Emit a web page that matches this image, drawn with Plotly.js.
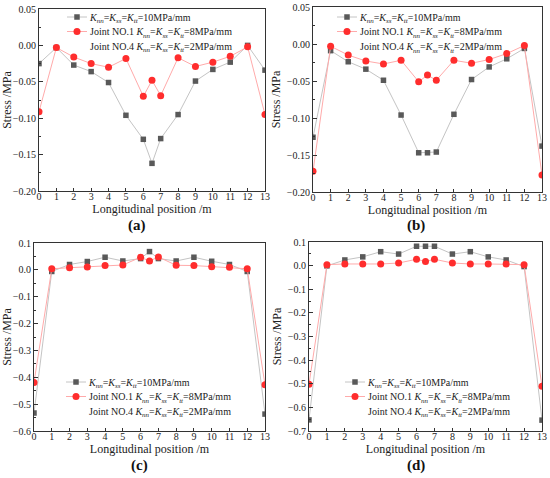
<!DOCTYPE html>
<html>
<head>
<meta charset="utf-8">
<script src="https://cdn.plot.ly/plotly-3.0.1.min.js"></script>
<style>html,body{margin:0;padding:0;background:#fff;}#chart{width:550px;height:478px;}</style>
</head>
<body>
<div id="chart"></div>
<script>
// Longitudinal positions (m)
const positions = [0, 1, 2, 3, 4, 5, 6, 6.5, 7, 8, 9, 10, 11, 12, 13];

// Panel (a)
const aK10 = [-0.025, -0.003, -0.027, -0.036, -0.051, -0.096, -0.129, -0.162, -0.128, -0.095, -0.049, -0.033, -0.023, 0.000, -0.034];
const aJ1  = [-0.091, -0.003, -0.016, -0.025, -0.030, -0.018, -0.070, -0.048, -0.069, -0.017, -0.029, -0.023, -0.015, -0.002, -0.095];
// Panel (b)
const bK10 = [-0.126, -0.009, -0.024, -0.034, -0.049, -0.096, -0.147, -0.147, -0.146, -0.095, -0.048, -0.031, -0.020, -0.006, -0.138];
const bJ1  = [-0.172, -0.003, -0.015, -0.023, -0.027, -0.022, -0.051, -0.042, -0.049, -0.022, -0.026, -0.021, -0.013, -0.002, -0.177];
// Panel (c)
const cK10 = [-0.533, -0.006, 0.020, 0.031, 0.047, 0.033, 0.042, 0.068, 0.042, 0.033, 0.047, 0.032, 0.020, -0.006, -0.537];
const cJ1  = [-0.419, 0.004, 0.008, 0.011, 0.016, 0.018, 0.047, 0.033, 0.048, 0.017, 0.016, 0.012, 0.010, 0.004, -0.428];
// Panel (d)
const dK10 = [-0.653, -0.001, 0.024, 0.037, 0.059, 0.049, 0.082, 0.082, 0.082, 0.049, 0.059, 0.037, 0.024, -0.004, -0.654];
const dJ1  = [-0.502, 0.004, 0.007, 0.007, 0.007, 0.011, 0.027, 0.017, 0.027, 0.011, 0.007, 0.007, 0.007, 0.004, -0.511];
// Joint NO.4 series: listed in the legend, no visible marks in the figure
const j4 = [null, null, null, null, null, null, null, null, null, null, null, null, null, null, null];

const seriesNames = [
  '<i>K</i><sub><i>nn</i></sub>=<i>K</i><sub><i>ss</i></sub>=<i>K</i><sub><i>tt</i></sub>=10MPa/mm',
  'Joint NO.1 <i>K</i><sub><i>nn</i></sub>=<i>K</i><sub><i>ss</i></sub>=<i>K</i><sub><i>tt</i></sub>=8MPa/mm',
  'Joint NO.4 <i>K</i><sub><i>nn</i></sub>=<i>K</i><sub><i>ss</i></sub>=<i>K</i><sub><i>tt</i></sub>=2MPa/mm'
];
const panelLabels = ['(a)', '(b)', '(c)', '(d)'];
const xTitle = 'Longitudinal position /m';
const yTitle = 'Stress /MPa';

const panels = [
  {k10: aK10, j1: aJ1, ax: '', range: [-0.2, 0.05], dtick: 0.05, fmt: '.2f'},
  {k10: bK10, j1: bJ1, ax: '2', range: [-0.2, 0.05], dtick: 0.05, fmt: '.2f'},
  {k10: cK10, j1: cJ1, ax: '3', range: [-0.6, 0.1], dtick: 0.1, fmt: '.1f'},
  {k10: dK10, j1: dJ1, ax: '4', range: [-0.7, 0.1], dtick: 0.1, fmt: '.1f'}
];

const W = 550, H = 478;
// pixel boxes [left, right, top, bottom]
const boxes = [[39, 265, 9, 191], [313, 542, 7, 192], [34, 265, 243, 431], [309, 542, 242, 431]];
// legend: text start x, row centre y values
const legendText = [90, 365, 94, 373];
const legendRows = [[17, 31.5, 46], [17, 31.5, 46.5], [382, 396.5, 411], [382, 396.5, 411]];
const labelPos = [[137, 225], [416, 225], [140, 465], [416, 465]];

const FONT = 'Liberation Serif, Times New Roman, serif';
const traces = [];
const layout = {
  width: W, height: H,
  margin: {l: 0, r: 0, t: 0, b: 0},
  paper_bgcolor: '#fff', plot_bgcolor: '#fff',
  font: {family: FONT, size: 11, color: '#222'},
  annotations: []
};

panels.forEach((p, i) => {
  const xa = 'x' + p.ax, ya = 'y' + p.ax;
  const lg = i === 0 ? 'legend' : 'legend' + (i + 1);
  traces.push({
    x: positions, y: p.k10, xaxis: xa, yaxis: ya, legend: lg,
    name: seriesNames[0], mode: 'lines+markers', type: 'scatter',
    line: {color: '#c4c4c4', width: 1},
    marker: {symbol: 'square', size: 5.5, color: '#595959'}
  });
  traces.push({
    x: positions, y: p.j1, xaxis: xa, yaxis: ya, legend: lg,
    name: seriesNames[1], mode: 'lines+markers', type: 'scatter',
    line: {color: '#ffaaaa', width: 1},
    marker: {symbol: 'circle', size: 7, color: '#ff2d2d'}
  });
  traces.push({
    x: positions, y: j4, xaxis: xa, yaxis: ya, legend: lg,
    name: seriesNames[2], mode: 'lines', type: 'scatter',
    line: {color: 'rgba(0,0,0,0)', width: 1}, showlegend: true
  });

  const b = boxes[i];
  const axisCommon = {
    showline: true, mirror: true, linecolor: '#333', linewidth: 1,
    ticks: 'inside', tickcolor: '#333', showgrid: false, zeroline: false,
    tickfont: {family: FONT, size: 10, color: '#222'}
  };
  layout['xaxis' + p.ax] = Object.assign({}, axisCommon, {
    domain: [b[0] / W, b[1] / W], anchor: ya,
    range: [0, 13], dtick: 1, tick0: 0, ticklen: 3, ticklabelstandoff: -4,
    title: {text: xTitle, font: {family: FONT, size: 12, color: '#222'}, standoff: 0}
  });
  layout['yaxis' + p.ax] = Object.assign({}, axisCommon, {
    domain: [1 - b[3] / H, 1 - b[2] / H], anchor: xa,
    range: p.range, dtick: p.dtick, tick0: 0, tickformat: p.fmt, ticklen: 4,
    minor: {dtick: p.dtick / 2, ticks: 'inside', ticklen: 2, tickcolor: '#333'},
    title: {text: yTitle, font: {family: FONT, size: 12, color: '#222'}, standoff: 3}
  });

  layout[lg] = {
    x: (legendText[i] - 45) / W, y: 1 - (legendRows[i][0] - 8) / H, xanchor: 'left', yanchor: 'top',
    bgcolor: 'rgba(0,0,0,0)', borderwidth: 0, itemwidth: 30, tracegroupgap: 0,
    font: {family: FONT, size: 10, color: '#222'}
  };

  layout.annotations.push({
    text: '<b>' + panelLabels[i] + '</b>', xref: 'paper', yref: 'paper',
    x: labelPos[i][0] / W, y: 1 - labelPos[i][1] / H, xanchor: 'center', yanchor: 'middle',
    showarrow: false, font: {family: FONT, size: 15, color: '#111'}
  });
});

function parseT(t) {
  const m = /translate\(\s*([-\d.e]+)[ ,]+([-\d.e]+)\s*\)/.exec(t || '');
  return m ? [parseFloat(m[1]), parseFloat(m[2])] : [0, 0];
}

// Compact the legends: tighter row spacing and shorter symbols, as in the reference
function tidyLegends(gd) {
  const ids = ['legend', 'legend2', 'legend3', 'legend4'];
  const root = gd.getBoundingClientRect();
  ids.forEach((id, i) => {
    const lg = gd.querySelector('.infolayer g.' + id);
    if (!lg) return;
    const items = lg.querySelectorAll('g.traces');
    items.forEach(tr => {
      tr.querySelectorAll('.legendlines path').forEach(p => p.setAttribute('d', 'M17,0h20'));
      tr.querySelectorAll('.legendpoints path').forEach(p => p.setAttribute('transform', 'translate(27,0)'));
    });
    const lt = parseT(lg.getAttribute('transform'));
    const sb = lg.querySelector('g.scrollbox');
    const st = sb ? parseT(sb.getAttribute('transform')) : [0, 0];
    items.forEach((tr, j) => {
      const cur = parseT(tr.getAttribute('transform'));
      tr.setAttribute('transform', 'translate(' + cur[0] + ',' + (legendRows[i][j] - lt[1] - st[1]) + ')');
    });
    // horizontal placement so the text starts where the reference's does
    let lx = lt[0];
    for (let pass = 0; pass < 2; pass++) {
      const txt = items[1] ? items[1].querySelector('text.legendtext') : null;
      if (!txt) break;
      const left = txt.getBoundingClientRect().left - root.left;
      lx += legendText[i] - left;
      lg.setAttribute('transform', 'translate(' + lx + ',' + lt[1] + ')');
    }
  });
}

const gd = document.getElementById('chart');
Plotly.newPlot(gd, traces, layout, {displayModeBar: false, staticPlot: true}).then(() => tidyLegends(gd));
</script>
</body>
</html>
